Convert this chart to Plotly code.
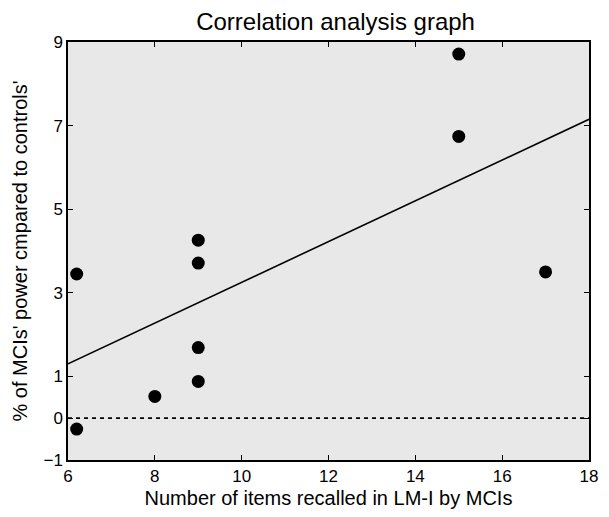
import plotly.graph_objects as go

items_recalled = [6.2, 6.2, 8, 9, 9, 9, 9, 15, 15, 17]
power_pct = [3.45, -0.26, 0.52, 0.88, 1.69, 3.71, 4.26, 8.71, 6.74, 3.5]
fit_x = [6, 18]
fit_y = [1.3, 7.15]
zero_x = [6, 18]
zero_y = [0, 0]
x_ticks = [6, 8, 10, 12, 14, 16, 18]
y_ticks = [-1, 0, 1, 3, 5, 7, 9]

font_family = "Liberation Sans, Arial, sans-serif"

fig = go.Figure()
fig.add_trace(go.Scatter(x=zero_x, y=zero_y, mode="lines",
                         line=dict(color="black", width=1.8, dash="4px,4px"),
                         hoverinfo="skip", showlegend=False))
fig.add_trace(go.Scatter(x=fit_x, y=fit_y, mode="lines",
                         line=dict(color="black", width=1.6),
                         showlegend=False))
fig.add_trace(go.Scatter(x=items_recalled, y=power_pct, mode="markers",
                         marker=dict(color="black", size=13),
                         showlegend=False))

axis_common = dict(showgrid=False, zeroline=False, showline=True, linecolor="black",
                   linewidth=1.5, mirror="ticks", ticks="inside", ticklen=5,
                   tickcolor="black", tickwidth=1.2,
                   tickfont=dict(size=17, color="black", family=font_family))

fig.update_layout(
    width=601, height=509,
    margin=dict(l=58, r=11, t=34, b=55),
    paper_bgcolor="white", plot_bgcolor="#e8e8e8",
    font=dict(family=font_family, color="black"),
    title=dict(text="Correlation analysis graph", x=0.545, xanchor="center",
               y=0.973, yanchor="middle", font=dict(size=24, color="black")),
    xaxis=dict(range=[6, 18], tickvals=x_ticks,
               title=dict(text="Number of items recalled in LM-I by MCIs",
                          font=dict(size=20), standoff=6),
               **axis_common),
    yaxis=dict(range=[-1, 9], tickvals=y_ticks,
               title=dict(text="% of MCIs' power cmpared to controls'",
                          font=dict(size=20), standoff=10),
               **axis_common),
)

fig.write_html("out.html")
